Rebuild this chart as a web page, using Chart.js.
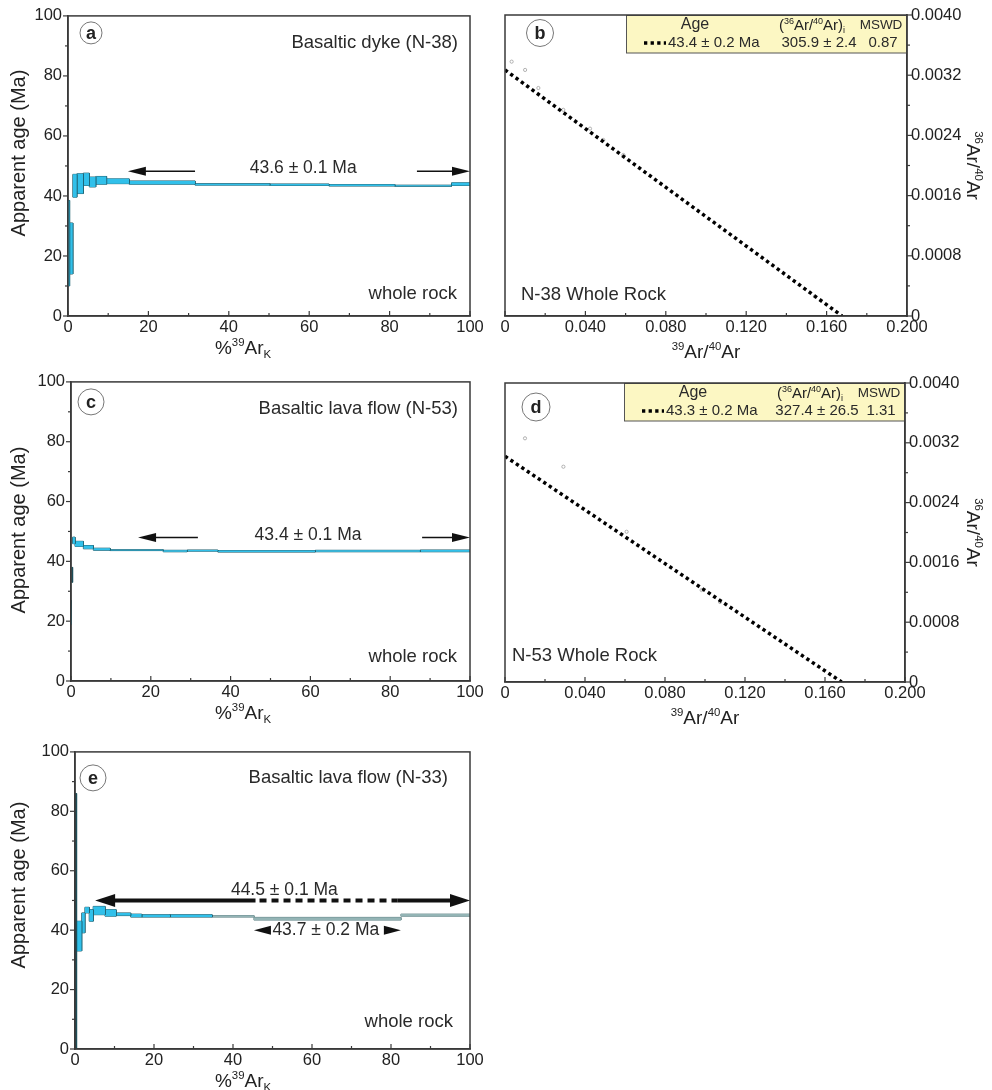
<!DOCTYPE html>
<html>
<head>
<meta charset="utf-8">
<script src="https://cdn.jsdelivr.net/npm/chart.js@4.4.1/dist/chart.umd.min.js"></script>
<style>
html,body{margin:0;padding:0;background:#fff}
#wrap{position:relative;width:992px;height:1090px;overflow:hidden}
canvas{position:absolute}
</style>
</head>
<body>
<div id="wrap">
<canvas id="pa" width="492" height="360" style="left:0;top:0"></canvas>
<canvas id="pb" width="512" height="360" style="left:480px;top:0"></canvas>
<canvas id="pc" width="492" height="360" style="left:0;top:366px"></canvas>
<canvas id="pd" width="512" height="360" style="left:480px;top:368px"></canvas>
<canvas id="pe" width="492" height="354" style="left:0;top:736px"></canvas>
</div>
<script>
// step-heating spectra: cumulative %39ArK at step edges, lower / upper age of each box (Ma)
const aEdges=[0,0.4,1.2,2.2,3.8,5.3,6.9,9.6,15.2,31.6,50.2,64.9,81.3,95.4,100];
const aLo=[10,14,39.6,40.8,43.5,43.0,43.9,44.1,43.9,43.6,43.5,43.3,43.2,43.5];
const aHi=[38.5,31,47.2,47.4,47.6,46.3,46.5,45.7,45.0,44.1,44.0,43.8,43.6,44.4];

const cEdges=[0,0.2,0.4,1.0,3.1,5.6,9.8,23.1,29.1,36.8,61.2,87.5,100];
const cLo=[19,33,45.9,45.0,44.2,43.7,43.6,43.2,43.4,43.1,43.2,43.2];
const cHi=[27,38,48.1,46.7,45.3,44.4,43.9,43.7,43.8,43.6,43.7,43.8];

const eEdges=[0,0.4,1.7,2.5,3.6,4.6,7.6,10.4,14.1,16.9,24.1,34.7,45.3,82.5,100];
const eLo=[0,33,39.1,45.8,43.0,45.2,44.7,44.9,44.4,44.4,44.4,44.4,43.4,44.7];
const eHi=[86,43,45.8,47.7,46.9,48.0,46.9,45.8,45.4,45.2,45.2,44.9,44.3,45.4];

// inverse isochrons: measured points and fitted line ends (39Ar/40Ar, 36Ar/40Ar)
const bPtX=[0.0033,0.0100,0.0166,0.0290,0.0423,0.0489,0.0589,0.1542];
const bPtY=[0.00338,0.00327,0.00303,0.00274,0.00249,0.00234,0.00214,0.00026];
const bFitX=[0,0.1677];
const bFitY=[0.00327,0];
const dPtX=[0.0100,0.0292,0.0608,0.0983,0.1075];
const dPtY=[0.00326,0.00288,0.00201,0.00123,0.00107];
const dFitX=[0,0.1683];
const dFitY=[0.00302,0];

const FF='"Liberation Sans", Arial, sans-serif';
const AX='#3a3a3a';
Chart.defaults.font.family=FF;
Chart.defaults.animation=false;

// text with superscript (1) / subscript (-1) pieces
function rich(ctx,parts,x,y,size,align,rot){
  ctx.save();
  ctx.translate(x,y); if(rot) ctx.rotate(rot);
  ctx.fillStyle='#222';
  const fs=m=>m?size*0.6:size;
  let w=0;
  parts.forEach(([t,m])=>{ctx.font=fs(m)+'px '+FF; w+=ctx.measureText(t).width;});
  let cx=align==='center'?-w/2:align==='right'?-w:0;
  ctx.textAlign='left'; ctx.textBaseline='alphabetic';
  parts.forEach(([t,m])=>{
    ctx.font=fs(m)+'px '+FF;
    const dy=m===1?-size*0.42:m===-1?size*0.22:0;
    ctx.fillText(t,cx,dy); cx+=ctx.measureText(t).width;
  });
  ctx.restore();
}
function txt(ctx,s,x,y,size,align){
  ctx.save(); ctx.fillStyle='#2a2a2a'; ctx.font=size+'px '+FF;
  ctx.textAlign=align; ctx.textBaseline='middle'; ctx.fillText(s,x,y); ctx.restore();
}
function circLabel(ctx,x,y,r,t){
  ctx.save(); ctx.beginPath(); ctx.arc(x,y,r,0,Math.PI*2);
  ctx.strokeStyle='#777'; ctx.lineWidth=1; ctx.stroke();
  ctx.fillStyle='#222'; ctx.font='bold 18px '+FF; ctx.textAlign='center'; ctx.textBaseline='middle';
  ctx.fillText(t,x,y+1); ctx.restore();
}
function frameAndTicks(c){
  const ctx=c.ctx,a=c.chartArea;
  ctx.save(); ctx.strokeStyle=AX; ctx.lineWidth=1.5;
  ctx.strokeRect(a.left,a.top,a.right-a.left,a.bottom-a.top);
  ctx.lineWidth=1.2;
  Object.values(c.scales).forEach(s=>{
    s.ticks.forEach((t,i)=>{
      const p=s.getPixelForValue(t.value), len=i%2?3:5;
      ctx.beginPath();
      if(s.isHorizontal()){ctx.moveTo(p,a.bottom);ctx.lineTo(p,a.bottom-len);}
      else if(s.position==='left'){ctx.moveTo(a.left,p);ctx.lineTo(a.left-len,p);}
      else{ctx.moveTo(a.right,p);ctx.lineTo(a.right+len,p);}
      ctx.stroke();
    });
  });
  ctx.restore();
}
function head(ctx,x,y,dir,len,half){
  ctx.beginPath(); ctx.moveTo(x,y); ctx.lineTo(x-dir*len,y-half); ctx.lineTo(x-dir*len,y+half); ctx.closePath(); ctx.fill();
}

// one filled box + one outline per heating step
function stepSets(edges,lo,hi,kind){
  const sets=[];
  const col={cyan:['#31c0ea','#1f5f6e'],gray:['#93b4b5','#5e8285'],dark:['#1f4f5a','#1f4f5a']};
  for(let i=0;i<lo.length;i++){
    const [fc,lc]=col[kind(i)];
    sets.push({data:[{x:edges[i],y:hi[i]},{x:edges[i+1],y:hi[i]}],fill:{value:lo[i]},
      backgroundColor:fc,borderWidth:0,pointRadius:0});
    sets.push({data:[{x:edges[i],y:lo[i]},{x:edges[i],y:hi[i]},{x:edges[i+1],y:hi[i]},{x:edges[i+1],y:lo[i]},{x:edges[i],y:lo[i]}],
      fill:false,borderColor:lc,borderWidth:1,pointRadius:0});
  }
  return sets;
}

function ageChart(id,sets,L,plotH,canvasH,deco){
  const tickFont={family:FF,size:16.5};
  return new Chart(document.getElementById(id),{
    type:'line',
    data:{datasets:sets},
    options:{
      responsive:false,events:[],
      layout:{padding:{left:0,top:15,right:22,bottom:canvasH-15-plotH-30}},
      plugins:{legend:{display:false},tooltip:{enabled:false}},
      scales:{
        x:{type:'linear',min:0,max:100,
          ticks:{stepSize:10,autoSkip:false,maxRotation:0,padding:2,color:'#222',font:tickFont,callback:(v,i)=>i%2?'':String(v)},
          grid:{display:false,drawTicks:false},border:{display:true,color:AX,width:1.5},
          afterFit:s=>{s.height=30;}},
        y:{type:'linear',min:0,max:100,
          ticks:{stepSize:10,autoSkip:false,padding:6,color:'#222',font:tickFont,callback:(v,i)=>i%2?'':String(v)},
          grid:{display:false,drawTicks:false},border:{display:true,color:AX,width:1.5},
          afterFit:s=>{s.width=L;}}
      }
    },
    plugins:[{id:'deco',afterDraw:c=>{frameAndTicks(c);deco(c);}}]
  });
}

function ageTitles(c,yc){
  const a=c.chartArea;
  rich(c.ctx,[['Apparent age (Ma)',0]],25,yc,20,'center',-Math.PI/2);
  rich(c.ctx,[['%',0],['39',1],['Ar',0],['K',-1]],243,a.bottom+38,19,'center');
}

function isoChart(id,px,py,fx,fy,axisW,plotH,deco){
  const tickFont={family:FF,size:16.5};
  return new Chart(document.getElementById(id),{
    type:'line',
    data:{datasets:[
      {data:fx.map((x,i)=>({x,y:fy[i]})),borderColor:'#000',borderWidth:3.5,borderDash:[3.3,3.3],borderCapStyle:'butt',pointRadius:0,fill:false},
      {data:px.map((x,i)=>({x,y:py[i]})),showLine:false,pointRadius:1.6,pointBorderColor:'#a0a0a0',pointBackgroundColor:'rgba(0,0,0,0)',pointBorderWidth:0.8}
    ]},
    options:{
      responsive:false,events:[],
      layout:{padding:{left:25,top:15,right:0,bottom:360-15-plotH-30}},
      plugins:{legend:{display:false},tooltip:{enabled:false}},
      scales:{
        x:{type:'linear',min:0,max:0.2,
          ticks:{stepSize:0.02,autoSkip:false,maxRotation:0,padding:2,color:'#222',font:tickFont,callback:(v,i)=>i%2?'':(v===0?'0':v.toFixed(3))},
          grid:{display:false,drawTicks:false},border:{display:true,color:AX,width:1.5},
          afterFit:s=>{s.height=30;}},
        y:{type:'linear',position:'right',min:0,max:0.004,
          ticks:{stepSize:0.0004,autoSkip:false,padding:4,color:'#222',font:tickFont,callback:(v,i)=>i%2?'':(v===0?'0':v.toFixed(4))},
          grid:{display:false,drawTicks:false},border:{display:true,color:AX,width:1.5},
          afterFit:s=>{s.width=axisW;}}
      }
    },
    plugins:[{id:'deco',beforeDatasetsDraw:c=>deco.box(c),afterDraw:c=>{frameAndTicks(c);deco.top(c);}}]
  });
}

function isoLegend(c,age,ratio,mswd){
  const ctx=c.ctx,a=c.chartArea,R=a.right,T=a.top;
  ctx.save();
  ctx.fillStyle='#fcf7c3'; ctx.fillRect(R-281,T,281,38);
  ctx.strokeStyle='#555'; ctx.lineWidth=1; ctx.strokeRect(R-280.5,T+0.5,280,37.5);
  ctx.strokeStyle='#000'; ctx.lineWidth=3.5; ctx.setLineDash([3.3,3.3]);
  ctx.beginPath(); ctx.moveTo(R-263,T+28); ctx.lineTo(R-241,T+28); ctx.stroke();
  ctx.restore();
  txt(ctx,'Age',R-212,T+10,16,'center');
  rich(ctx,[['(',0],['36',1],['Ar/',0],['40',1],['Ar)',0],['i',-1]],R-95,T+15,15,'center');
  txt(ctx,'MSWD',R-26,T+10,13.5,'center');
  txt(ctx,age,R-239,T+28,15,'left');
  txt(ctx,ratio,R-88,T+28,15,'center');
  txt(ctx,mswd,R-24,T+28,15,'center');
}
function isoTitles(c){
  const a=c.chartArea;
  rich(c.ctx,[['39',1],['Ar/',0],['40',1],['Ar',0]],(a.left+a.right)/2,a.bottom+42,19,'center');
  rich(c.ctx,[['36',1],['Ar/',0],['40',1],['Ar',0]],487,(a.top+a.bottom)/2,19,'center',Math.PI/2);
}

// panel a
ageChart('pa',stepSets(aEdges,aLo,aHi,()=>'cyan'),68,301,360,c=>{
  const ctx=c.ctx,a=c.chartArea,x=c.scales.x,y=c.scales.y;
  circLabel(ctx,a.left+23,a.top+17,11,'a');
  txt(ctx,'Basaltic dyke (N-38)',a.right-12,a.top+27,18.5,'right');
  txt(ctx,'whole rock',a.right-13,a.bottom-22,18.5,'right');
  const ya=y.getPixelForValue(48.2);
  ctx.save(); ctx.strokeStyle='#111'; ctx.fillStyle='#111'; ctx.lineWidth=1.5;
  ctx.beginPath(); ctx.moveTo(x.getPixelForValue(14.9)+12,ya); ctx.lineTo(x.getPixelForValue(31.6),ya);
  ctx.moveTo(x.getPixelForValue(86.8),ya); ctx.lineTo(x.getPixelForValue(100)-12,ya); ctx.stroke();
  head(ctx,x.getPixelForValue(14.9),ya,-1,18,4.5); head(ctx,x.getPixelForValue(100),ya,1,18,4.5);
  ctx.restore();
  txt(ctx,'43.6 ± 0.1 Ma',x.getPixelForValue(58.5),y.getPixelForValue(49.4),17.5,'center');
  ageTitles(c,153);
});

// panel b
isoChart('pb',bPtX,bPtY,bFitX,bFitY,85,301,{
  box:c=>isoLegend(c,'43.4 ± 0.2 Ma','305.9 ± 2.4','0.87'),
  top:c=>{const a=c.chartArea;
    circLabel(c.ctx,a.left+35,a.top+18,13.5,'b');
    txt(c.ctx,'N-38 Whole Rock',a.left+16,a.bottom-21,18.5,'left');
    isoTitles(c);}
});

// panel c
ageChart('pc',stepSets(cEdges,cLo,cHi,i=>i===1?'dark':'cyan'),71,300,360,c=>{
  const ctx=c.ctx,a=c.chartArea,x=c.scales.x,y=c.scales.y;
  circLabel(ctx,a.left+20,a.top+20,13,'c');
  txt(ctx,'Basaltic lava flow (N-53)',a.right-12,a.top+27,18.5,'right');
  txt(ctx,'whole rock',a.right-13,a.bottom-24,18.5,'right');
  const ya=y.getPixelForValue(48);
  ctx.save(); ctx.strokeStyle='#111'; ctx.fillStyle='#111'; ctx.lineWidth=1.5;
  ctx.beginPath(); ctx.moveTo(x.getPixelForValue(16.8)+12,ya); ctx.lineTo(x.getPixelForValue(31.8),ya);
  ctx.moveTo(x.getPixelForValue(88),ya); ctx.lineTo(x.getPixelForValue(100)-12,ya); ctx.stroke();
  head(ctx,x.getPixelForValue(16.8),ya,-1,18,4.5); head(ctx,x.getPixelForValue(100),ya,1,18,4.5);
  ctx.restore();
  txt(ctx,'43.4 ± 0.1 Ma',x.getPixelForValue(59.4),y.getPixelForValue(48.8),17.5,'center');
  ageTitles(c,164);
});

// panel d
isoChart('pd',dPtX,dPtY,dFitX,dFitY,87,299,{
  box:c=>isoLegend(c,'43.3 ± 0.2 Ma','327.4 ± 26.5','1.31'),
  top:c=>{const a=c.chartArea;
    circLabel(c.ctx,a.left+31,a.top+24,14,'d');
    txt(c.ctx,'N-53 Whole Rock',a.left+7,a.bottom-26,18.5,'left');
    isoTitles(c);}
});

// panel e
ageChart('pe',stepSets(eEdges,eLo,eHi,i=>i===0?'dark':(i>=11?'gray':'cyan')),75,298,354,c=>{
  const ctx=c.ctx,a=c.chartArea,x=c.scales.x,y=c.scales.y;
  circLabel(ctx,a.left+18,a.top+26,13,'e');
  txt(ctx,'Basaltic lava flow (N-33)',a.right-22,a.top+26,18.5,'right');
  txt(ctx,'whole rock',a.right-17,a.bottom-27,18.5,'right');
  const ya=y.getPixelForValue(50);
  ctx.save(); ctx.strokeStyle='#111'; ctx.fillStyle='#111'; ctx.lineWidth=4;
  ctx.beginPath(); ctx.moveTo(x.getPixelForValue(5.1)+14,ya); ctx.lineTo(x.getPixelForValue(45.7),ya);
  ctx.moveTo(x.getPixelForValue(81.7),ya); ctx.lineTo(x.getPixelForValue(100)-14,ya); ctx.stroke();
  ctx.setLineDash([7,5]); ctx.beginPath(); ctx.moveTo(x.getPixelForValue(45.7)+4,ya); ctx.lineTo(x.getPixelForValue(81.7),ya); ctx.stroke();
  head(ctx,x.getPixelForValue(5.1),ya,-1,20,6.5); head(ctx,x.getPixelForValue(100),ya,1,20,6.5);
  const yb=y.getPixelForValue(40);
  head(ctx,x.getPixelForValue(45.3),yb,-1,17,4.5); head(ctx,x.getPixelForValue(82.5),yb,1,17,4.5);
  ctx.restore();
  txt(ctx,'44.5 ± 0.1 Ma',x.getPixelForValue(53),y.getPixelForValue(53.3),17.5,'center');
  txt(ctx,'43.7 ± 0.2 Ma',x.getPixelForValue(63.5),y.getPixelForValue(40),17.5,'center');
  ageTitles(c,149);
});
</script>
</body>
</html>
